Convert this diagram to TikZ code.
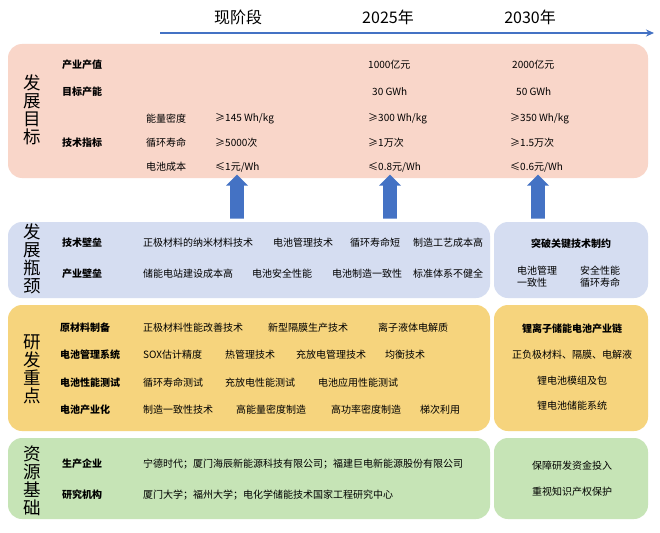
\documentclass[tikz,border=0pt]{standalone}
\usepackage{fontspec}
\setmainfont{Noto Sans CJK SC}
\usetikzlibrary{shapes.arrows,arrows.meta}
\definecolor{goalc}{HTML}{F9D6C9}
\definecolor{bottc}{HTML}{D5DDF1}
\definecolor{rdc}{HTML}{F6D47D}
\definecolor{resc}{HTML}{C6E4B6}
\definecolor{arrc}{HTML}{4472C4}
\tikzset{
  panel/.style={rounded corners=14pt,draw=none},
  t/.style={anchor=west,font=\fontsize{10}{12}\selectfont,inner sep=0pt},
  h/.style={anchor=west,font=\fontsize{10}{12}\selectfont\bfseries,inner sep=0pt},
  c/.style={anchor=center,font=\fontsize{10}{12}\selectfont,inner sep=0pt},
  vt/.style={font=\fontsize{17.5}{18}\selectfont,align=center,inner sep=0pt},
  yr/.style={font=\fontsize{16}{18}\selectfont,inner sep=0pt},
  uparrow/.style={single arrow,draw=none,fill=arrc,shape border rotate=90,minimum height=44pt,minimum width=22pt,single arrow head extend=2pt,inner sep=3pt}
}
\begin{document}
\begin{tikzpicture}[x=1pt,y=-1pt]
\useasboundingbox[fill=white] (0,0) rectangle (660,532);
% timeline
\coordinate (tl0) at (160,33);
\coordinate (tl1) at (654,33);
\draw[arrc,line width=1.6pt,-{Stealth[length=8pt,width=7pt]}] (tl0) -- (tl1);
\node[yr] (y0) at (238,17) {现阶段};
\node[yr] (y1) at (388,17) {2025年};
\node[yr] (y2) at (530,17) {2030年};
% panels
\fill[panel,goalc] (8,44) rectangle (648,178);
\fill[panel,bottc] (8,222) rectangle (490,298);
\fill[panel,bottc] (494,222) rectangle (648,298);
\fill[panel,rdc] (8,305) rectangle (490,431);
\fill[panel,rdc] (494,305) rectangle (648,431);
\fill[panel,resc] (8,438) rectangle (490,519);
\fill[panel,resc] (494,438) rectangle (648,519);
% arrows
\node[uparrow] (a0) at (237,200) {};
\node[uparrow] (a1) at (390,200) {};
\node[uparrow] (a2) at (538,200) {};
% vertical labels
\node[vt] (v0) at (32,110) {发\\展\\目\\标};
\node[vt] (v1) at (32,259) {发\\展\\瓶\\颈};
\node[vt] (v2) at (32,369) {研\\发\\重\\点};
\node[vt] (v3) at (32,481) {资\\源\\基\\础};
% goals
\node[h] (g1) at (62,65) {产业产值};
\node[h] (g2) at (62,92) {目标产能};
\node[h] (g3) at (62,143) {技术指标};
\node[t] (g4) at (146,119) {能量密度};
\node[t] (g5) at (146,143) {循环寿命};
\node[t] (g6) at (146,167) {电池成本};
\node[t] (g7) at (215,119) {≥145 Wh/kg};
\node[t] (g8) at (215,143) {≥5000次};
\node[t] (g9) at (215,167) {≤1元/Wh};
\node[t] (m1) at (368,65) {1000亿元};
\node[t] (m2) at (372,92) {30 GWh};
\node[t] (m3) at (368,119) {≥300 Wh/kg};
\node[t] (m4) at (368,143) {≥1万次};
\node[t] (m5) at (368,167) {≤0.8元/Wh};
\node[t] (n1) at (512,65) {2000亿元};
\node[t] (n2) at (516,92) {50 GWh};
\node[t] (n3) at (510,119) {≥350 Wh/kg};
\node[t] (n4) at (510,143) {≥1.5万次};
\node[t] (n5) at (510,167) {≤0.6元/Wh};
% bottleneck
\node[h] (b1) at (62,243) {技术壁垒};
\node[h] (b2) at (62,274) {产业壁垒};
\node[t] (b3) at (143,243) {正极材料的纳米材料技术};
\node[t] (b4) at (273,243) {电池管理技术};
\node[t] (b5) at (350,243) {循环寿命短};
\node[t] (b6) at (413,243) {制造工艺成本高};
\node[t] (b7) at (143,274) {储能电站建设成本高};
\node[t] (b8) at (252,274) {电池安全性能};
\node[t] (b9) at (332,274) {电池制造一致性};
\node[t] (b10) at (413,274) {标准体系不健全};
\node[c,font=\fontsize{10}{12}\selectfont\bfseries] (b11) at (571,244) {突破关键技术制约};
\node[t,align=left] (b12) at (517,277) {电池管理\\一致性};
\node[t,align=left] (b13) at (580,277) {安全性能\\循环寿命};
% R&D
\node[h] (r1) at (60,328) {原材料制备};
\node[h] (r2) at (60,355) {电池管理系统};
\node[h] (r3) at (60,383) {电池性能测试};
\node[h] (r4) at (60,410) {电池产业化};
\node[t] (r5) at (143,328) {正极材料性能改善技术};
\node[t] (r6) at (268,328) {新型隔膜生产技术};
\node[t] (r7) at (378,328) {离子液体电解质};
\node[t] (r8) at (143,355) {SOX估计精度};
\node[t] (r9) at (225,355) {热管理技术};
\node[t] (r10) at (296,355) {充放电管理技术};
\node[t] (r11) at (385,355) {均衡技术};
\node[t] (r12) at (143,383) {循环寿命测试};
\node[t] (r13) at (225,383) {充放电性能测试};
\node[t] (r14) at (318,383) {电池应用性能测试};
\node[t] (r15) at (143,410) {制造一致性技术};
\node[t] (r16) at (236,410) {高能量密度制造};
\node[t] (r17) at (331,410) {高功率密度制造};
\node[t] (r18) at (420,410) {梯次利用};
\node[c,font=\fontsize{10}{12}\selectfont\bfseries] (r19) at (572,329) {锂离子储能电池产业链};
\node[c] (r20) at (572,355) {正负极材料、隔膜、电解液};
\node[c] (r21) at (572,381) {锂电池模组及包};
\node[c] (r22) at (572,406) {锂电池储能系统};
% resources
\node[h] (s1) at (62,464) {生产企业};
\node[h] (s2) at (62,495) {研究机构};
\node[t] (s3) at (143,464) {宁德时代；厦门海辰新能源科技有限公司；福建巨电新能源股份有限公司};
\node[t] (s4) at (143,495) {厦门大学；福州大学；电化学储能技术国家工程研究中心};
\node[c] (s5) at (572,466) {保障研发资金投入};
\node[c] (s6) at (572,492) {重视知识产权保护};
\end{tikzpicture}
\end{document}
